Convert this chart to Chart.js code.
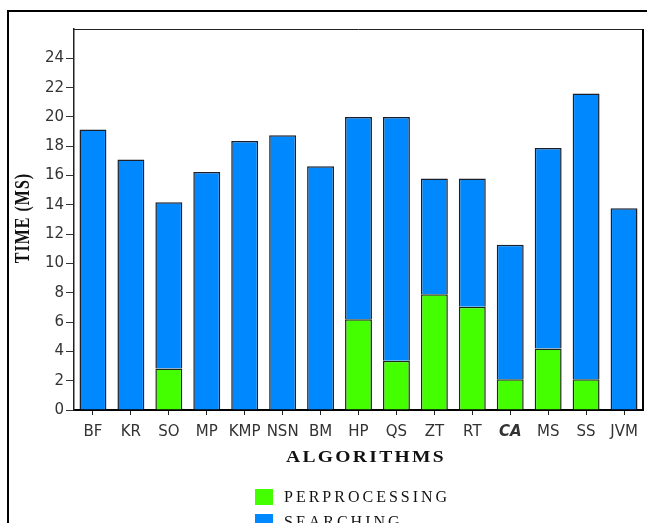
<!DOCTYPE html>
<html lang="en">
<head>
  <meta charset="UTF-8">
  <title>Time per algorithm</title>
  <script src="https://cdn.jsdelivr.net/npm/chart.js"></script>
  <style>
    html, body { margin: 0; padding: 0; overflow: hidden; background: #fff; }
    #wrap { position: relative; width: 647px; height: 523px; overflow: hidden; }
    #frame {
      position: absolute; left: 7px; top: 10px; width: 700px; height: 600px;
      border-top: 2px solid #000; border-left: 2px solid #000;
    }
    canvas { position: absolute; left: 0; top: 0; }
    .axis-title {
      position: absolute; font-family: "Liberation Serif", serif; font-weight: bold;
      color: #111; white-space: nowrap;
    }
    #xTitle { left: 366px; top: 457px; font-size: 17px; letter-spacing: 2px; transform: translate(-50%, -50%) scaleX(1.15); }
    #yTitle { left: 22px; top: 218px; font-size: 16px; letter-spacing: 1px; transform: translate(-50%, -50%) rotate(-90deg) scaleY(1.3); }
    #legend { position: absolute; left: 255px; top: 484px; }
    .item { display: flex; align-items: center; height: 25px; }
    .swatch { width: 18px; height: 16px; margin-right: 11px; }
    .item span { font-family: "Liberation Serif", serif; font-size: 16px; letter-spacing: 3px; color: #111; }
  </style>
</head>

<body>
  <div id="wrap">
    <canvas id="chart" width="647" height="523"></canvas>
    <div id="frame"></div>
    <div class="axis-title" id="yTitle">TIME (MS)</div>
    <div class="axis-title" id="xTitle">ALGORITHMS</div>
    <div id="legend"></div>
  </div>

  <script>
    var categories = ['BF', 'KR', 'SO', 'MP', 'KMP', 'NSN', 'BM', 'HP', 'QS', 'ZT', 'RT', 'CA', 'MS', 'SS', 'JVM'];
    var preprocessing = [0, 0, 2.84, 0, 0, 0, 0, 6.2, 3.36, 7.9, 7.05, 2.09, 4.2, 2.09, 0];
    var searching = [19.15, 17.1, 11.34, 16.25, 18.36, 18.75, 16.63, 13.8, 16.64, 7.9, 8.75, 9.18, 13.68, 19.51, 13.77];
    var yTicks = [0, 2, 4, 6, 8, 10, 12, 14, 16, 18, 20, 22, 24];
    var yMax = 26;
    var highlighted = ['CA'];

    var datasets = [{
      label: 'PERPROCESSING',
      data: preprocessing,
      backgroundColor: '#44ff00',
      borderColor: '#1c2a14',
      borderWidth: 1.5
    }, {
      label: 'SEARCHING',
      data: searching,
      backgroundColor: '#0088ff',
      borderColor: '#1a1f2a',
      borderWidth: 1.5
    }];

    // top and right edges of the plot box
    var plotFrame = {
      id: 'plotFrame',
      afterDraw: function (chart) {
        var ctx = chart.ctx, a = chart.chartArea;
        ctx.save();
        ctx.strokeStyle = '#222';
        ctx.lineWidth = 1;
        ctx.beginPath();
        ctx.moveTo(a.left, a.top + 0.5);
        ctx.lineTo(a.right, a.top + 0.5);
        ctx.stroke();
        ctx.strokeStyle = '#000';
        ctx.lineWidth = 2;
        ctx.beginPath();
        ctx.moveTo(a.right, a.top);
        ctx.lineTo(a.right, a.bottom);
        ctx.stroke();
        ctx.restore();
      }
    };

    new Chart(document.getElementById('chart'), {
      type: 'bar',
      data: { labels: categories, datasets: datasets },
      plugins: [plotFrame],
      options: {
        responsive: false,
        animation: false,
        barPercentage: 0.71,
        categoryPercentage: 1,
        layout: { padding: { top: 29, right: 4, bottom: 0, left: 0 } },
        plugins: { legend: { display: false }, tooltip: { enabled: false } },
        scales: {
          x: {
            stacked: true,
            grid: { drawOnChartArea: false, offset: false, tickLength: 5, color: '#222' },
            border: { color: '#000', width: 2 },
            ticks: {
              autoSkip: false,
              maxRotation: 0,
              padding: 8,
              color: '#333',
              font: function (c) {
                if (highlighted.indexOf(categories[c.index]) >= 0) {
                  return { family: 'DejaVu Sans', size: 15, weight: 'bold', style: 'italic' };
                }
                return { family: 'DejaVu Sans', size: 15 };
              }
            },
            afterFit: function (s) { s.height = 113; }
          },
          y: {
            stacked: true,
            min: 0,
            max: yMax,
            afterBuildTicks: function (s) {
              s.ticks = yTicks.map(function (v) { return { value: v }; });
            },
            grid: { drawOnChartArea: false, tickLength: 8, color: '#333' },
            border: { color: '#222', width: 1.5 },
            ticks: { padding: 2, color: '#333', font: { family: 'DejaVu Sans', size: 15 } },
            afterFit: function (s) { s.width = 74; }
          }
        }
      }
    });

    var legend = document.getElementById('legend');
    datasets.forEach(function (d) {
      var item = document.createElement('div');
      item.className = 'item';
      item.innerHTML = '<div class="swatch" style="background:' + d.backgroundColor + '"></div><span>' + d.label + '</span>';
      legend.appendChild(item);
    });
  </script>
</body>

</html>
